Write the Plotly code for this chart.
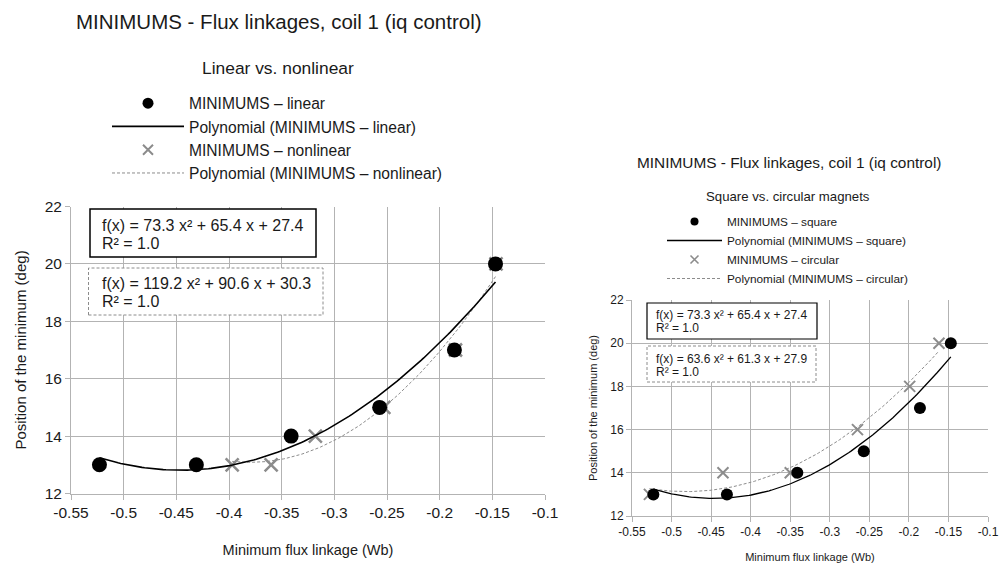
import numpy as np
import plotly.graph_objects as go

W, H = 1006, 563

# ---------------- data ----------------
lin_x = [-0.523, -0.431, -0.341, -0.257, -0.186, -0.147]
lin_y = [13, 13, 14, 15, 17, 20]
nonlin_x = [-0.397, -0.360, -0.318, -0.253, -0.185, -0.1465]
nonlin_y = [13, 13, 14, 15, 17, 20]
lin_coef = [73.3, 65.4, 27.4]
nonlin_coef = [119.2, 90.6, 30.3]

sq_x = [-0.523, -0.430, -0.341, -0.257, -0.186, -0.147]
sq_y = [13, 13, 14, 15, 17, 20]
circ_x = [-0.528, -0.435, -0.350, -0.265, -0.199, -0.162]
circ_y = [13, 14, 14, 16, 18, 20]
sq_coef = [73.3, 65.4, 27.4]
circ_coef = [63.6, 61.3, 27.9]

x_ticks = [-0.55, -0.5, -0.45, -0.4, -0.35, -0.3, -0.25, -0.2, -0.15, -0.1]
x_ticktext = ["-0.55", "-0.5", "-0.45", "-0.4", "-0.35", "-0.3", "-0.25", "-0.2", "-0.15", "-0.1"]
y_ticks = [12, 14, 16, 18, 20, 22]

FONT = "Liberation Sans, Arial, sans-serif"
DARK = "#1a1a1a"
GREY = "#8c8c8c"


def px(x):
    return x / W


def py(y):
    return 1 - y / H


def trend(xs, coef):
    xx = np.linspace(min(xs), max(xs), 150)
    return xx, np.polyval(coef, xx)


fig = go.Figure()


def data_trace(x, y, mode, ax, ay, **kw):
    fig.add_trace(go.Scatter(x=x, y=y, mode=mode, xaxis=ax, yaxis=ay, showlegend=False,
                             hoverinfo="x+y", **kw))


def legend_entry(name, mode, leg, rank, **kw):
    fig.add_trace(go.Scatter(x=[None], y=[None], mode=mode, name=name, legend=leg,
                             legendrank=rank, showlegend=True, hoverinfo="skip",
                             xaxis="x" if leg == "legend" else "x2",
                             yaxis="y" if leg == "legend" else "y2", **kw))


# ---- left chart ----
t_x, t_y = trend(lin_x, lin_coef)
n_x, n_y = trend(nonlin_x, nonlin_coef)
data_trace(nonlin_x, nonlin_y, "markers", "x", "y",
           marker=dict(symbol="x-thin", size=13, color=GREY, line=dict(color=GREY, width=2.5)))
data_trace(n_x, n_y, "lines", "x", "y", line=dict(color=GREY, width=1, dash="3px,2px"))
data_trace(t_x, t_y, "lines", "x", "y", line=dict(color="black", width=1.6))
data_trace(lin_x, lin_y, "markers", "x", "y", marker=dict(symbol="circle", size=15, color="black"))

legend_entry("MINIMUMS \u2013 linear", "markers", "legend", 1,
             marker=dict(symbol="circle", size=11, color="black"))
legend_entry("Polynomial (MINIMUMS \u2013 linear)", "lines", "legend", 2,
             line=dict(color="black", width=1.6))
legend_entry("MINIMUMS \u2013 nonlinear", "markers", "legend", 3,
             marker=dict(symbol="x-thin", size=10, color=GREY, line=dict(color=GREY, width=2)))
legend_entry("Polynomial (MINIMUMS \u2013 nonlinear)", "lines", "legend", 4,
             line=dict(color=GREY, width=1, dash="3px,2px"))

# ---- right chart ----
s_x, s_y = trend(sq_x, sq_coef)
c_x, c_y = trend(circ_x, circ_coef)
data_trace(circ_x, circ_y, "markers", "x2", "y2",
           marker=dict(symbol="x-thin", size=11, color=GREY, line=dict(color=GREY, width=2)))
data_trace(c_x, c_y, "lines", "x2", "y2", line=dict(color=GREY, width=1, dash="3px,2px"))
data_trace(s_x, s_y, "lines", "x2", "y2", line=dict(color="black", width=1.3))
data_trace(sq_x, sq_y, "markers", "x2", "y2", marker=dict(symbol="circle", size=12, color="black"))

legend_entry("MINIMUMS \u2013 square", "markers", "legend2", 1,
             marker=dict(symbol="circle", size=8, color="black"))
legend_entry("Polynomial (MINIMUMS \u2013 square)", "lines", "legend2", 2,
             line=dict(color="black", width=1.3))
legend_entry("MINIMUMS \u2013 circular", "markers", "legend2", 3,
             marker=dict(symbol="x-thin", size=8, color=GREY, line=dict(color=GREY, width=1.6)))
legend_entry("Polynomial (MINIMUMS \u2013 circular)", "lines", "legend2", 4,
             line=dict(color=GREY, width=1, dash="3px,2px"))

axis_common = dict(showgrid=True, gridcolor="#b3b3b3", gridwidth=1, showline=True,
                   linecolor="#b3b3b3", linewidth=1, ticks="outside", tickcolor="#b3b3b3",
                   ticklen=5, zeroline=False, automargin=False)

fig.update_layout(
    width=W, height=H,
    margin=dict(l=0, r=0, t=0, b=0, autoexpand=False),
    paper_bgcolor="white", plot_bgcolor="white",
    font=dict(family=FONT, color=DARK),
    xaxis=dict(domain=[px(71), px(545)], range=[-0.55, -0.1], tickvals=x_ticks, ticktext=x_ticktext,
               tickfont=dict(size=15.5), anchor="y",
               title=dict(text="Minimum flux linkage (Wb)", font=dict(size=14.5), standoff=24), **axis_common),
    yaxis=dict(domain=[py(493.5), py(206.5)], range=[12, 22], tickvals=y_ticks,
               tickfont=dict(size=15.5), anchor="x",
               title=dict(text="Position of the minimum (deg)", font=dict(size=15), standoff=14), **axis_common),
    xaxis2=dict(domain=[px(632), px(988)], range=[-0.55, -0.1], tickvals=x_ticks, ticktext=x_ticktext,
                tickfont=dict(size=12), anchor="y2",
                title=dict(text="Minimum flux linkage (Wb)", font=dict(size=11), standoff=17), **axis_common),
    yaxis2=dict(domain=[py(516), py(300)], range=[12, 22], tickvals=y_ticks,
                tickfont=dict(size=12), anchor="x2",
                title=dict(text="Position of the minimum (deg)", font=dict(size=11), standoff=10), **axis_common),
    legend=dict(x=px(107), y=py(86.5), xanchor="left", yanchor="top", font=dict(size=15.6),
                itemwidth=72, bgcolor="rgba(0,0,0,0)", tracegroupgap=0),
    legend2=dict(x=px(662), y=py(207), xanchor="left", yanchor="top", font=dict(size=11.8),
                 itemwidth=55, bgcolor="rgba(0,0,0,0)", tracegroupgap=0),
    showlegend=True,
)

# titles
fig.add_annotation(text="MINIMUMS - Flux linkages, coil 1 (iq control)", x=px(74), y=py(21),
                   xref="paper", yref="paper", xanchor="left", yanchor="middle", showarrow=False,
                   font=dict(size=20.5, color=DARK))
fig.add_annotation(text="Linear vs. nonlinear", x=px(277.5), y=py(68),
                   xref="paper", yref="paper", xanchor="center", yanchor="middle", showarrow=False,
                   font=dict(size=17.4, color=DARK))
fig.add_annotation(text="MINIMUMS - Flux linkages, coil 1 (iq control)", x=px(635), y=py(162),
                   xref="paper", yref="paper", xanchor="left", yanchor="middle", showarrow=False,
                   font=dict(size=15.4, color=DARK))
fig.add_annotation(text="Square vs. circular magnets", x=px(787.5), y=py(196.5),
                   xref="paper", yref="paper", xanchor="center", yanchor="middle", showarrow=False,
                   font=dict(size=13.2, color=DARK))

# equation boxes
fig.add_shape(type="rect", xref="paper", yref="paper", x0=px(90), x1=px(316), y0=py(257), y1=py(209),
              line=dict(color="black", width=1.5), fillcolor="white", layer="above")
fig.add_shape(type="rect", xref="paper", yref="paper", x0=px(88.5), x1=px(323), y0=py(315), y1=py(268),
              line=dict(color=GREY, width=1, dash="3px,2px"), fillcolor="white", layer="above")
fig.add_shape(type="rect", xref="paper", yref="paper", x0=px(647), x1=px(817), y0=py(339), y1=py(303),
              line=dict(color="black", width=1.2), fillcolor="white", layer="above")
fig.add_shape(type="rect", xref="paper", yref="paper", x0=px(647), x1=px(816), y0=py(382), y1=py(346),
              line=dict(color=GREY, width=1, dash="3px,2px"), fillcolor="white", layer="above")


def eq_line(c):
    return f"f(x) = {c[0]:.1f} x\u00b2 + {c[1]:.1f} x + {c[2]:.1f}"


def add_text(txt, x, y, size):
    fig.add_annotation(text=txt, x=px(x), y=py(y), xref="paper", yref="paper",
                       xanchor="left", yanchor="middle", align="left", showarrow=False,
                       font=dict(size=size, color=DARK))


add_text(eq_line(lin_coef), 100, 225.5, 16)
add_text("R\u00b2 = 1.0", 100, 243, 16)
add_text(eq_line(nonlin_coef), 99.5, 283.5, 16)
add_text("R\u00b2 = 1.0", 99.5, 301, 16)
add_text(eq_line(sq_coef), 654, 315, 12)
add_text("R\u00b2 = 1.0", 654, 327.5, 12)
add_text(eq_line(circ_coef), 654, 358.5, 12)
add_text("R\u00b2 = 1.0", 654, 371.5, 12)

fig.write_html("out.html")
